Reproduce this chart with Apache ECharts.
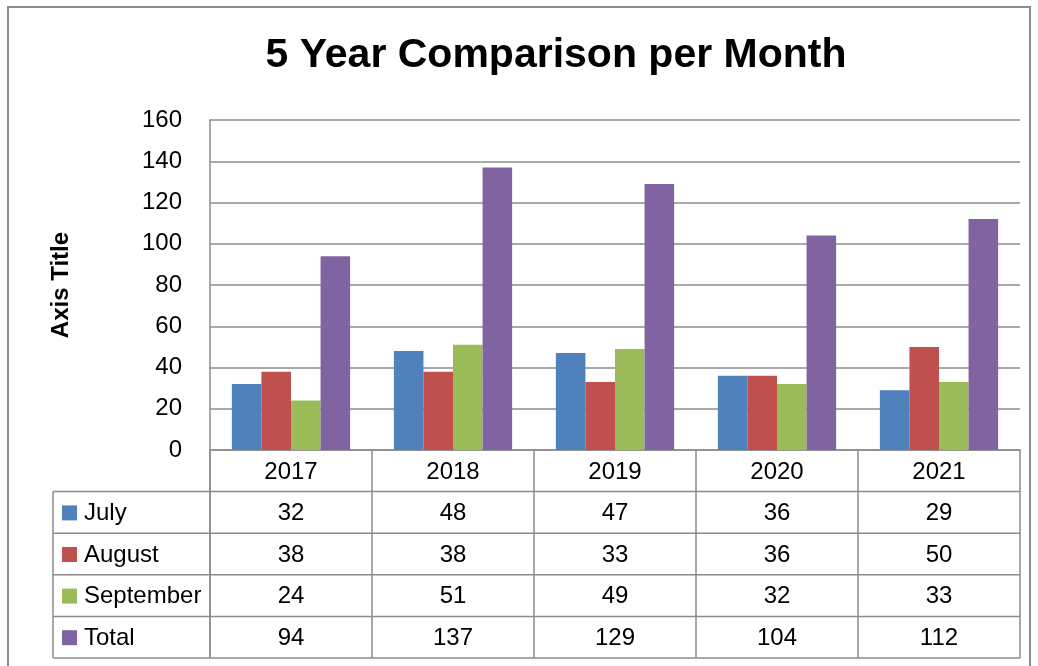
<!DOCTYPE html>
<html>
<head>
<meta charset="utf-8">
<script src="https://cdn.jsdelivr.net/npm/echarts@6/dist/echarts.min.js"></script>
<style>
  html, body { margin: 0; padding: 0; background: #fff; }
  #chart { width: 1038px; height: 666px; }
</style>
</head>
<body>
<div id="chart"></div>
<script>
const years = ['2017', '2018', '2019', '2020', '2021'];
const july = [32, 48, 47, 36, 29];
const august = [38, 38, 33, 36, 50];
const september = [24, 51, 49, 32, 33];
const total = [94, 137, 129, 104, 112];
const seriesNames = ['July', 'August', 'September', 'Total'];
const seriesData = [july, august, september, total];
const colors = ['#4F81BD', '#C0504D', '#9BBB59', '#8064A2'];

const FONT = '"Liberation Sans", Arial, sans-serif';
const LINE = '#8c8c8c';
const ROW_H = 41.6;     // data-table row height
const TABLE_LEFT = 53;

const chart = echarts.init(document.getElementById('chart'), null, { renderer: 'canvas' });

const option = {
    animation: false,
    textStyle: { fontFamily: FONT },
    grid: { left: 210, top: 120, width: 810, height: 330 },
    xAxis: {
        type: 'category',
        data: years,
        axisLine: { show: true, lineStyle: { color: LINE, width: 1.5 } },
        // ticks double as the vertical borders of the data table
        axisTick: { show: true, length: ROW_H * 5, lineStyle: { color: LINE, width: 1.5 } },
        axisLabel: { color: '#000', fontSize: 24, margin: 10, fontFamily: FONT }
    },
    yAxis: {
        type: 'value',
        min: 0,
        max: 160,
        interval: 20,
        name: 'Axis Title',
        nameLocation: 'middle',
        nameRotate: 90,
        nameGap: 137,
        nameTextStyle: { color: '#000', fontSize: 24, fontWeight: 'bold', fontFamily: FONT },
        axisLine: { show: true, lineStyle: { color: LINE, width: 1.5 } },
        axisTick: { show: false },
        axisLabel: { color: '#000', fontSize: 24, margin: 28, padding: [6, 0, 0, 0], fontFamily: FONT },
        splitLine: { show: true, lineStyle: { color: LINE, width: 1.5 } }
    },
    series: seriesNames.map((name, i) => ({
        name: name,
        type: 'bar',
        data: seriesData[i],
        barGap: 0,
        barCategoryGap: '27%',
        itemStyle: { color: colors[i] }
    }))
};

chart.setOption(option);

// data table under the plot, placed from the axes
function buildTable() {
    const baseY = chart.convertToPixel({ yAxisIndex: 0 }, 0);
    const rightX = 210 + 810;
    const els = [];

    els.push({
        type: 'rect',
        shape: { x: 8, y: 7, width: 1022, height: 700 },
        style: { fill: null, stroke: '#8c8c8c', lineWidth: 2 },
        silent: true
    });
    els.push({
        type: 'text',
        x: 556, y: 56,
        style: {
            text: '5 Year Comparison per Month',
            font: 'bold 41px ' + FONT,
            fill: '#000',
            align: 'center',
            verticalAlign: 'middle'
        }
    });

    const tableTop = baseY + ROW_H;
    const tableBottom = baseY + ROW_H * 5;
    // horizontal row borders
    for (let r = 0; r <= 4; r++) {
        const y = tableTop + r * ROW_H;
        els.push({
            type: 'line',
            shape: { x1: TABLE_LEFT, y1: y, x2: rightX, y2: y },
            style: { stroke: LINE, lineWidth: 1.5 }
        });
    }
    // left border
    els.push({
        type: 'line',
        shape: { x1: TABLE_LEFT, y1: tableTop, x2: TABLE_LEFT, y2: tableBottom },
        style: { stroke: LINE, lineWidth: 1.5 }
    });
    els.push({
        type: 'line',
        shape: { x1: 210, y1: baseY, x2: 210, y2: tableBottom },
        style: { stroke: LINE, lineWidth: 1.5 }
    });

    seriesNames.forEach((name, r) => {
        const cy = tableTop + r * ROW_H + ROW_H / 2;
        els.push({
            type: 'rect',
            shape: { x: 62, y: cy - 7, width: 15, height: 15 },
            style: { fill: colors[r] }
        });
        els.push({
            type: 'text',
            x: 84, y: cy + 1,
            style: { text: name, font: '24px ' + FONT, fill: '#000', align: 'left', verticalAlign: 'middle' }
        });
        seriesData[r].forEach((v, c) => {
            const cx = chart.convertToPixel({ xAxisIndex: 0 }, years[c]);
            els.push({
                type: 'text',
                x: cx, y: cy + 1,
                style: { text: String(v), font: '24px ' + FONT, fill: '#000', align: 'center', verticalAlign: 'middle' }
            });
        });
    });

    chart.setOption({ graphic: { elements: els } });
}

buildTable();
</script>
</body>
</html>
